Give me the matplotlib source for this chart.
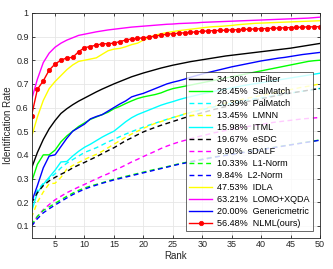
import matplotlib
matplotlib.use("Agg")
import matplotlib.pyplot as plt

ranks = list(range(1, 51))

mfilter = [.343, .41, .465, .51, .545, .575, .595, .612, .627, .64,
           .653, .666, .678, .689, .70, .71, .72, .73, .738, .746,
           .753, .76, .767, .773, .779, .784, .789, .794, .798, .802,
           .806, .81, .814, .818, .821, .824, .827, .83, .833, .836,
           .839, .842, .845, .848, .851, .855, .859, .863, .867, .871]
salmatch = [.2845, .36, .40, .40, .42, .455, .48, .50, .52, .535,
            .55, .56, .57, .58, .595, .605, .617, .628, .638, .645,
            .65, .655, .662, .672, .68, .685, .69, .695, .70, .705,
            .71, .715, .72, .725, .73, .735, .74, .745, .75, .755,
            .76, .765, .77, .775, .78, .785, .79, .795, .798, .80]
palmatch = [.2039, .25, .28, .30, .32, .345, .365, .38, .395, .41,
            .42, .43, .442, .455, .465, .477, .488, .498, .508, .517,
            .526, .534, .542, .55, .558, .565, .572, .579, .585, .591,
            .597, .603, .608, .613, .618, .623, .628, .633, .637, .641,
            .645, .649, .653, .657, .661, .665, .669, .673, .677, .681]
lmnn = [.1345, .20, .243, .278, .28, .305, .34, .355, .368, .38,
        .392, .402, .415, .43, .445, .46, .475, .488, .50, .512,
        .523, .533, .541, .549, .557, .565, .573, .58, .587, .594,
        .601, .607, .613, .619, .625, .631, .636, .641, .646, .651,
        .656, .661, .666, .671, .676, .681, .686, .69, .695, .70]
itml = [.1598, .24, .275, .305, .335, .37, .372, .395, .415, .432,
        .445, .46, .475, .488, .50, .52, .54, .557, .57, .58,
        .59, .60, .61, .618, .625, .633, .64, .646, .652, .658,
        .663, .668, .673, .678, .683, .688, .693, .697, .701, .705,
        .709, .713, .717, .721, .725, .729, .733, .737, .741, .745]
esdc = [.1967, .24, .27, .29, .305, .318, .33, .345, .357, .368,
        .38, .392, .405, .418, .43, .445, .46, .472, .485, .497,
        .507, .516, .525, .533, .541, .549, .557, .564, .571, .578,
        .585, .592, .598, .604, .61, .616, .622, .627, .632, .637,
        .642, .647, .652, .657, .661, .665, .669, .673, .677, .68]
sdalf = [.099, .14, .168, .19, .21, .225, .24, .252, .264, .275,
         .287, .298, .31, .32, .334, .345, .357, .37, .381, .393,
         .404, .415, .427, .437, .446, .454, .461, .468, .475, .481,
         .487, .493, .498, .503, .508, .513, .517, .521, .525, .529,
         .533, .537, .54, .543, .546, .549, .552, .554, .556, .558]
l1norm = [.1033, .14, .165, .18, .195, .21, .225, .238, .25, .26,
          .268, .275, .282, .29, .297, .303, .309, .315, .321, .327,
          .333, .339, .344, .35, .356, .362, .367, .372, .377, .382,
          .387, .391, .395, .399, .403, .407, .411, .415, .419, .423,
          .427, .431, .435, .439, .443, .447, .451, .455, .459, .463]
l2norm = [.0984, .13, .155, .172, .188, .203, .218, .232, .244, .255,
          .264, .272, .28, .287, .294, .30, .306, .312, .318, .324,
          .33, .336, .342, .348, .354, .36, .365, .37, .375, .38,
          .385, .39, .394, .398, .402, .406, .41, .414, .418, .422,
          .426, .43, .434, .438, .442, .446, .45, .454, .458, .462]
idla = [.4753, .56, .63, .68, .71, .735, .76, .78, .795, .80,
        .805, .81, .825, .84, .847, .85, .857, .866, .872, .885,
        .897, .906, .912, .917, .921, .925, .928, .931, .934, .937,
        .94, .942, .943, .945, .947, .95, .952, .954, .956, .957,
        .958, .959, .96, .961, .962, .963, .964, .965, .966, .967]
lomo = [.6321, .72, .79, .83, .855, .872, .885, .895, .905, .91,
        .915, .92, .924, .928, .931, .934, .937, .94, .942, .944,
        .946, .948, .950, .952, .953, .955, .956, .957, .958, .96,
        .961, .962, .963, .964, .965, .966, .967, .968, .969, .97,
        .971, .972, .973, .974, .975, .976, .977, .978, .98, .982]
generic = [.20, .27, .345, .395, .40, .435, .47, .50, .515, .53,
           .552, .562, .57, .585, .60, .615, .628, .645, .653, .66,
           .67, .68, .69, .70, .707, .713, .72, .728, .735, .742,
           .748, .754, .76, .766, .772, .777, .782, .787, .792, .797,
           .801, .805, .809, .812, .816, .82, .824, .827, .83, .833]
nlml = [.5648, .677, .713, .758, .784, .80, .81, .812, .836, .853,
        .858, .864, .869, .870, .872, .879, .885, .89, .892, .895,
        .898, .902, .906, .91, .912, .914, .916, .918, .92, .922,
        .924, .925, .926, .927, .928, .929, .93, .931, .932, .933,
        .934, .935, .936, .937, .938, .939, .94, .941, .941, .942]

labels = ["34.30%  mFilter", "28.45%  SalMatch", "20.39%  PalMatch",
          "13.45%  LMNN", "15.98%  ITML", "19.67%  eSDC", "9.90%  sDALF",
          "10.33%  L1-Norm", "9.84%  L2-Norm", "47.53%  IDLA",
          "63.21%  LOMO+XQDA", "20.00%  Genericmetric", "56.48%  NLML(ours)"]
series = [mfilter, salmatch, palmatch, lmnn, itml, esdc, sdalf,
          l1norm, l2norm, idla, lomo, generic, nlml]
colors = ["k", "#00ff00", "#00ffff", "#ffff00", "#00ffff", "k", "#ff00ff",
          "#00ff00", "#0000ff", "#ffff00", "#ff00ff", "#0000ff", "#ff0000"]
styles = ["-", "-", "--", "--", "-", "--", "--", "--", "--", "-", "-", "-", "-"]

plt.rcParams['font.family'] = ['Liberation Sans', 'DejaVu Sans']

fig = plt.figure(figsize=(3.33, 2.69), dpi=100)
ax = fig.add_axes([0.0946, 0.1165, 0.8664, 0.8355])

for y, lab, c, ls in zip(series, labels, colors, styles):
    kw = dict(color=c, linestyle=ls, linewidth=1.0, label=lab)
    if ls == "--":
        kw["dashes"] = (3.5, 2.5)
    if lab.endswith("NLML(ours)"):
        kw.update(marker="o", markersize=3.2, markeredgewidth=0.5)
    ax.plot(ranks, y, **kw)

ax.set_xlim(1, 50)
ax.set_ylim(0.05, 1.0)
ax.set_xticks([5, 10, 15, 20, 25, 30, 35, 40, 45, 50])
ax.set_yticks([0.1, 0.2, 0.3, 0.4, 0.5, 0.6, 0.7, 0.8, 0.9, 1.0])
ax.set_yticklabels(["0.1", "0.2", "0.3", "0.4", "0.5", "0.6", "0.7", "0.8", "0.9", "1"])
ax.grid(True, color="#e6e6e6", linewidth=0.6)
ax.set_axisbelow(True)
ax.tick_params(direction="in", length=2.5, width=0.6, labelsize=6.5,
               colors="#262626", pad=2, top=True, right=True)
for s in ax.spines.values():
    s.set_color("#262626")
    s.set_linewidth(0.6)
ax.set_xlabel("Rank", fontsize=7, color="#262626", labelpad=1)
ax.set_ylabel("Identification Rate", fontsize=7, color="#262626", labelpad=2)

leg = ax.legend(loc="lower right", bbox_to_anchor=(0.976, 0.03), fontsize=6.5,
                frameon=True, fancybox=False, edgecolor="#262626",
                handlelength=2.5, handletextpad=0.6, labelspacing=0.33,
                borderpad=0.35, borderaxespad=0)
leg.get_frame().set_linewidth(0.6)

fig.savefig("out.png", dpi=100)
